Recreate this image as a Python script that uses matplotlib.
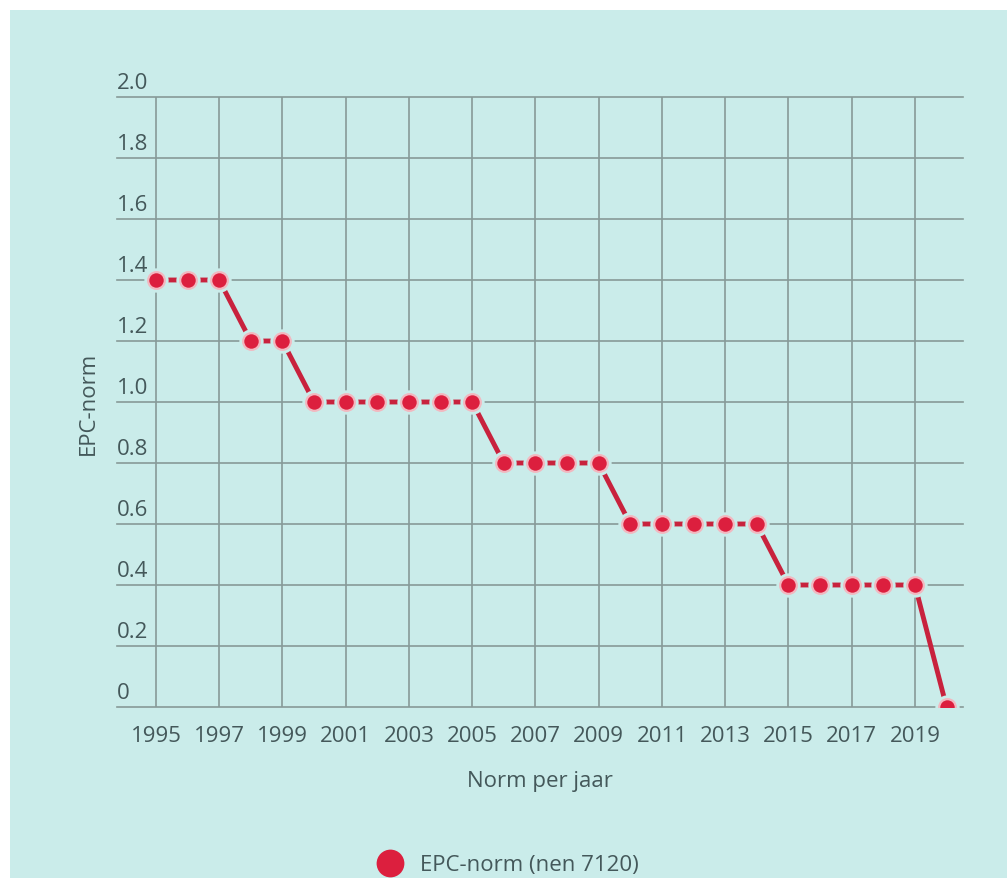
import matplotlib.pyplot as plt
from matplotlib.patches import Rectangle
from matplotlib.lines import Line2D
from matplotlib.transforms import blended_transform_factory

years = [1995, 1996, 1997, 1998, 1999, 2000, 2001, 2002, 2003, 2004, 2005, 2006, 2007,
         2008, 2009, 2010, 2011, 2012, 2013, 2014, 2015, 2016, 2017, 2018, 2019, 2020]
epc = [1.4, 1.4, 1.4, 1.2, 1.2, 1.0, 1.0, 1.0, 1.0, 1.0, 1.0, 0.8, 0.8,
       0.8, 0.8, 0.6, 0.6, 0.6, 0.6, 0.6, 0.4, 0.4, 0.4, 0.4, 0.4, 0.0]
x_ticks = list(range(1995, 2020, 2))
y_ticks = [0, 0.2, 0.4, 0.6, 0.8, 1.0, 1.2, 1.4, 1.6, 1.8, 2.0]
y_labels = ['0', '0.2', '0.4', '0.6', '0.8', '1.0', '1.2', '1.4', '1.6', '1.8', '2.0']

bg = '#caecea'
grid_col = '#879a98'
text_col = '#44585a'
red = '#dc1f3e'
line_red = '#c8223d'

plt.rcParams['font.family'] = ['Open Sans', 'DejaVu Sans']

fig = plt.figure(figsize=(10.07, 8.79), dpi=100)
fig.patch.set_facecolor('white')
fig.patches.append(Rectangle((10 / 1007, 0), 1, 1 - 11 / 879, transform=fig.transFigure,
                             facecolor=bg, edgecolor='none', zorder=-10))

ax = fig.add_axes([117 / 1007, (879 - 708) / 879, (963 - 117) / 1007, (708 - 98) / 879])
ax.set_zorder(5)
ax.set_facecolor('none')
ax.set_xlim(1993.77, 2020.52)
ax.set_ylim(0, 2.0)

for s in ax.spines.values():
    s.set_visible(False)

# grid
for y in y_ticks:
    ax.axhline(y, color=grid_col, lw=1.2, zorder=1, clip_on=False)
for x in x_ticks:
    ax.axvline(x, color=grid_col, lw=1.2, zorder=1)

ax.set_xticks(x_ticks)
ax.set_xticklabels([str(x) for x in x_ticks], fontsize=16, color=text_col)
ax.tick_params(axis='x', length=0, pad=13)
ax.set_yticks([])

trans = blended_transform_factory(ax.transAxes, ax.transData)
for y, lab in zip(y_ticks, y_labels):
    ax.text(0, y + 0.012, lab, transform=trans, ha='left', va='bottom',
            fontsize=16, color=text_col)

# series: line, halo, markers
ax.plot(years, epc, color=line_red, lw=3.5, zorder=3, solid_capstyle='butt')
ax.plot(years, epc, 'o', ms=17.5, color=bg, markeredgewidth=0, zorder=4)
ax.plot(years, epc, 'o', ms=12, color=red, markeredgecolor='#f2b8c0',
        markeredgewidth=1.6, zorder=5)

ax.set_ylabel('EPC-norm', fontsize=16, color=text_col)
ax.yaxis.set_label_coords(-0.022, 0.5)
ax.set_xlabel('Norm per jaar', fontsize=16, color=text_col, labelpad=17)

# legend
fig.lines.append(Line2D([390 / 1007], [1 - 864 / 879], marker='o', ms=20,
                        color=red, markeredgewidth=0, transform=fig.transFigure))
fig.text(420 / 1007, 1 - 866 / 879, 'EPC-norm (nen 7120)', fontsize=16,
         color=text_col, ha='left', va='center')

fig.savefig('out.png', dpi=100, facecolor=fig.get_facecolor())
